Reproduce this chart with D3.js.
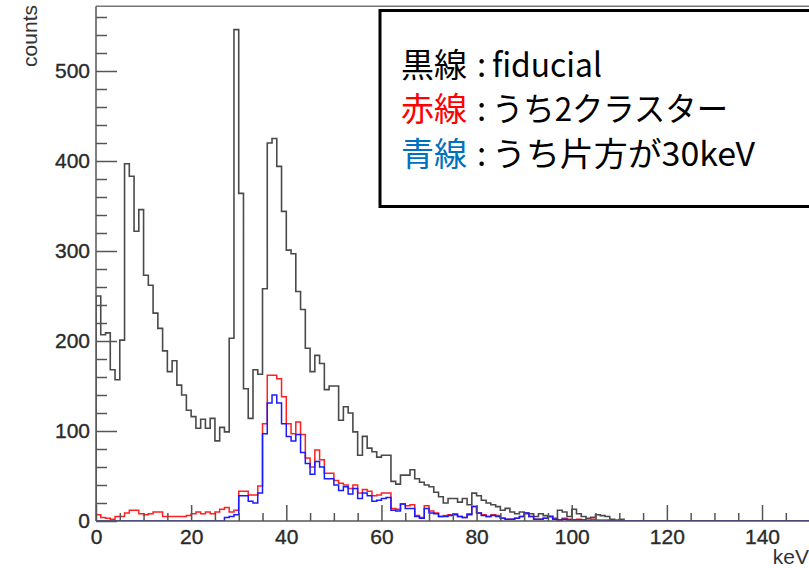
<!DOCTYPE html>
<html>
<head>
<meta charset="utf-8">
<script src="https://cdn.jsdelivr.net/npm/d3@7"></script>
<style>
  html, body { margin: 0; padding: 0; background: #fff; }
  svg { display: block; }
</style>
</head>
<body>
<svg id="chart" width="809" height="568"></svg>
<script>
// Energy spectrum, 1 keV bins from 0 to 150 keV (bin lower edges)
const binEdges = d3.range(0, 150, 1);

// fiducial events (black)
const fiducial = [
  250,207,209,168,157,201,397,383,322,346,
  273,262,231,214,189,166,178,151,140,123,
  116,103,113,103,114,89,104,99,203,546,
  364,147,114,168,163,258,420,425,394,344,
  301,297,255,235,192,166,184,175,146,150,
  150,112,127,120,99,73,94,81,77,71,
  73,73,44,41,51,51,57,47,43,40,
  38,32,27,20,25,25,21,25,18,31,
  28,23,20,18,16,12,14,10,8,10,
  8,8,5,8,6,5,3,12,10,5,
  13,8,5,3,4,7,6,5,2,1,
  2,0,0,0,0,0,0,0,0,0,
  0,0,0,0,0,0,0,0,0,0,
  0,0,0,0,0,0,0,0,0,0,
  0,0,0,0,0,0,0,0,0,0
];

// of which: 2-cluster events (red)
const twoCluster = [
  7,4,3,2,5,5,9,12,12,8,
  7,8,10,10,5,5,5,5,5,6,
  8,10,8,10,8,10,13,15,10,12,
  33,33,29,29,39,108,162,162,158,138,
  108,97,110,96,70,60,79,68,53,53,
  45,42,40,36,40,31,35,33,28,29,
  31,31,14,13,19,17,18,6,4,17,
  11,9,5,6,7,8,5,4,8,16,
  9,7,5,7,6,3,2,2,3,5,
  9,5,2,2,3,5,2,1,3,2,
  1,2,1,1,2,1,1,1,0,0,
  0,0,0,0,0,0,0,0,0,0,
  0,0,0,0,0,0,0,0,0,0,
  0,0,0,0,0,0,0,0,0,0,
  0,0,0,0,0,0,0,0,0,0
];

// of which: one cluster at 30 keV (blue)
const oneAt30keV = [
  0,0,0,0,0,0,0,0,0,0,
  0,0,0,0,0,0,0,0,0,0,
  0,0,0,0,0,0,0,4,5,7,
  28,28,22,20,31,97,131,140,131,108,
  94,89,96,76,64,52,66,60,47,47,
  40,34,38,30,36,25,31,28,22,23,
  25,26,12,11,19,14,14,5,3,14,
  9,8,5,5,6,7,5,4,7,16,
  9,6,5,6,5,3,2,2,3,5,
  9,5,2,2,3,5,2,1,2,1,
  1,1,1,0,0,0,0,0,0,0,
  0,0,0,0,0,0,0,0,0,0,
  0,0,0,0,0,0,0,0,0,0,
  0,0,0,0,0,0,0,0,0,0,
  0,0,0,0,0,0,0,0,0,0
];

const xMajorTicks = [0, 20, 40, 60, 80, 100, 120, 140];
const yMajorTicks = [0, 100, 200, 300, 400, 500];
const xTitle = "keV";
const yTitle = "counts";

const svg = d3.select("#chart");
const x = d3.scaleLinear().domain([0, 150]).range([96, 809.6]);
const y = d3.scaleLinear().domain([0, 572]).range([521, 6.2]);

const axisFont = "'Liberation Sans', Arial, Helvetica, sans-serif";

// clip for histogram area
svg.append("defs").append("clipPath").attr("id", "plotClip")
  .append("rect").attr("x", x(0)).attr("y", y(572)).attr("width", x(150) - x(0)).attr("height", y(0) - y(572));

// frame top
svg.append("line").attr("x1", x(0)).attr("x2", x(150)).attr("y1", y(572)).attr("y2", y(572))
  .attr("stroke", "#777").attr("stroke-width", 1.5);

// histogram outlines
function histPath(vals) {
  const pts = [[0, 0]].concat(binEdges.map((e, i) => [e, vals[i]]));
  pts.push([150, vals[vals.length - 1]]);
  return d3.line().x(d => x(d[0])).y(d => y(d[1])).curve(d3.curveStepAfter)(pts);
}

const hg = svg.append("g").attr("clip-path", "url(#plotClip)");
hg.append("path").attr("d", histPath(fiducial)).attr("fill", "none")
  .attr("stroke", "#4a4a4a").attr("stroke-width", 1.6);

// axes
const yAxisMajor = d3.axisLeft(y).tickValues(yMajorTicks).tickSize(-21).tickPadding(6).tickFormat(d3.format("d"));
const yAxisMinor = d3.axisLeft(y).tickValues(d3.range(0, 572, 20).filter(v => v % 100 !== 0)).tickSize(-11).tickFormat("");
const xAxisMajor = d3.axisBottom(x).tickValues(xMajorTicks).tickSize(-16).tickPadding(8).tickFormat(d3.format("d"));
const xAxisMinor = d3.axisBottom(x).tickValues(d3.range(0, 151, 5).filter(v => v % 20 !== 0)).tickSize(-8).tickFormat("");

function styleAxis(g) {
  g.select(".domain").remove();
  g.selectAll(".tick line").attr("stroke", "#555").attr("stroke-width", 1.5);
  g.selectAll(".tick text").attr("fill", "#2a2a2a")
    .attr("stroke", "#2a2a2a").attr("stroke-width", 0.35)
    .style("font-family", axisFont).style("font-size", "21px");
}

svg.append("g").attr("transform", `translate(${x(0)},0)`).call(yAxisMinor).call(styleAxis);
svg.append("g").attr("transform", `translate(${x(0)},0)`).call(yAxisMajor).call(styleAxis);
svg.append("g").attr("transform", `translate(0,${y(0)})`).call(xAxisMinor).call(styleAxis);
svg.append("g").attr("transform", `translate(0,${y(0)})`).call(xAxisMajor).call(styleAxis);

// axis lines
svg.append("line").attr("x1", x(0)).attr("x2", x(0)).attr("y1", y(0)).attr("y2", y(572))
  .attr("stroke", "#555").attr("stroke-width", 1.5);
svg.append("line").attr("x1", x(0)).attr("x2", x(150)).attr("y1", y(0)).attr("y2", y(0))
  .attr("stroke", "#555").attr("stroke-width", 1.5);

// red and blue histograms on top
hg.append("path").attr("d", histPath(twoCluster)).attr("fill", "none")
  .attr("stroke", "#ff2020").attr("stroke-width", 1.5);
hg.append("path").attr("d", histPath(oneAt30keV)).attr("fill", "none")
  .attr("stroke", "#1a1aff").attr("stroke-width", 1.5);

// axis titles
svg.append("text").text(yTitle)
  .attr("transform", "translate(37,5) rotate(-90)")
  .attr("text-anchor", "end")
  .attr("fill", "#333").style("font-family", axisFont).style("font-size", "21px");
svg.append("text").text(xTitle)
  .attr("x", 809).attr("y", 564)
  .attr("text-anchor", "end")
  .attr("fill", "#333").style("font-family", axisFont).style("font-size", "21px");

// legend box
const legend = svg.append("g");
legend.append("rect").attr("x", 380).attr("y", 10.5).attr("width", 460).attr("height", 196)
  .attr("fill", "#fff").attr("stroke", "#000").attr("stroke-width", 3);

const legendFont = "'Noto Sans CJK JP', 'Noto Sans', sans-serif";
const legendRows = [
  { key: "黒線", color: "#000000", desc: "fiducial", y: 77, len: 110 },
  { key: "赤線", color: "#ff0000", desc: "うち2クラスター", y: 121, len: 236 },
  { key: "青線", color: "#0070c0", desc: "うち片方が30keV", y: 166, len: 263 }
];
legendRows.forEach(r => {
  const row = legend.append("g");
  const style = t => t.attr("y", r.y).style("font-family", legendFont).style("font-size", "33px");
  row.append("text").call(style).attr("x", 401).attr("fill", r.color).text(r.key);
  row.append("text").call(style).attr("x", 477).attr("fill", "#000").text(":");
  row.append("text").call(style).attr("x", 492).attr("fill", "#000")
    .attr("textLength", r.len).attr("lengthAdjust", "spacingAndGlyphs").text(r.desc);
});
</script>
</body>
</html>
